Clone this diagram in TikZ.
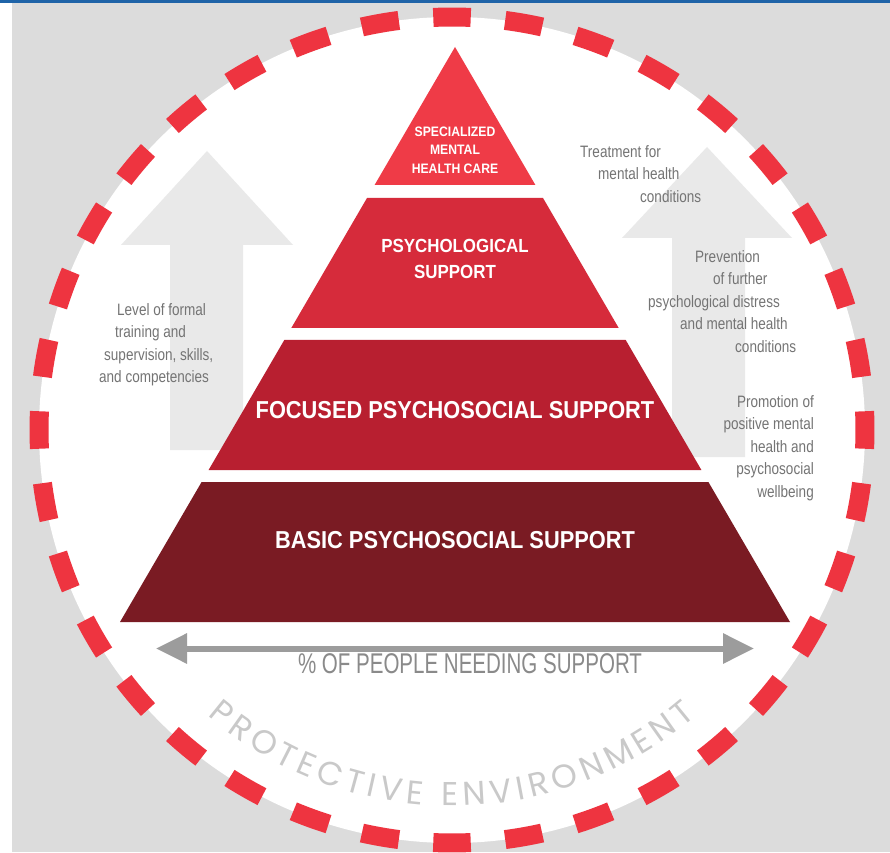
\documentclass[tikz,border=0pt]{standalone}
\usepackage{fontspec}
\usetikzlibrary{arrows.meta, calc, decorations.text}
\newfontfamily\tierfont{Liberation Sans}[FakeStretch=0.89]
\newfontfamily\notefont{Liberation Sans}[FakeStretch=0.82]
\newfontfamily\axisfont{Liberation Sans}[FakeStretch=0.72]
\newfontfamily\protfont{Poppins}

\definecolor{bggray}{HTML}{DCDCDC}
\definecolor{arrowgray}{HTML}{E9E9E9}
\definecolor{ringred}{HTML}{EE3440}
\definecolor{tierA}{HTML}{EF3B47}
\definecolor{tierB}{HTML}{D62B3B}
\definecolor{tierC}{HTML}{B81F30}
\definecolor{tierD}{HTML}{7A1B23}
\definecolor{notegray}{HTML}{747474}
\definecolor{axisgray}{HTML}{9C9C9C}
\definecolor{axistext}{HTML}{8A8A8A}
\definecolor{protgray}{HTML}{C9C9C9}
\definecolor{topblue}{HTML}{1F64A8}

\begin{document}
\begin{tikzpicture}[x=1pt, y=1pt,
    tier/.style 2 args={text=white, align=center, inner sep=0pt, font=\tierfont\bfseries\fontsize{#1}{#2}\selectfont},
    note/.style={font=\notefont\fontsize{16.5}{22.5}\selectfont, text=notegray, inner sep=0pt},
    bigarrow/.style={fill=arrowgray},
    ringdash/.style={draw=ringred, line width=19pt}]
    \useasboundingbox (0,0) rectangle (890,852);

    %---------------- Background ----------------%
    \fill[bggray] (12,0) rectangle (890,849);
    \fill[white] (0,0) rectangle (12,849);
    \fill[topblue] (0,849) rectangle (890,852);
    \coordinate (C) at (452,422);
    \fill[white] (C) circle[radius=413];

    %---------------- Up arrows ----------------%
    \fill[bigarrow] (207,701) -- (293,607) -- (243,607) -- (243,402) -- (170,402) -- (170,607) -- (121,607) -- cycle;
    \fill[bigarrow] (707,705) -- (792,614) -- (745,614) -- (745,395) -- (672,395) -- (672,614) -- (622,614) -- cycle;

    %---------------- Pyramid ----------------%
    \fill[tierA] (455,805) -- (535.4,667) -- (374.6,667) -- cycle;
    \fill[tierB] (367,654) -- (543,654) -- (618.7,524) -- (291.3,524) -- cycle;
    \fill[tierC] (284.3,512) -- (625.7,512) -- (701.4,382) -- (208.6,382) -- cycle;
    \fill[tierD] (201.6,370) -- (708.4,370) -- (790,230) -- (120,230) -- cycle;

    \node[tier={13.7}{18.5}] (specialized) at (455,702) {SPECIALIZED\\MENTAL\\HEALTH CARE};
    \node[tier={19}{26}] (psychological) at (455,593) {PSYCHOLOGICAL\\SUPPORT};
    \node[tier={24.5}{26}] (focused) at (455,442) {FOCUSED PSYCHOSOCIAL SUPPORT};
    \node[tier={24.5}{26}] (basic) at (455,312) {BASIC PSYCHOSOCIAL SUPPORT};

    %---------------- Side notes ----------------%
    \node[note, anchor=north west, align=left] (treatment) at (580,707)
        {Treatment for\\\hspace*{18pt}mental health\\\hspace*{60pt}conditions};
    \node[note, anchor=north west, align=left] (prevention) at (648,602)
        {\hspace*{47pt}Prevention\\\hspace*{65pt}of further\\psychological distress\\\hspace*{32pt}and mental health\\\hspace*{87pt}conditions};
    \node[note, anchor=north east, align=right] (promotion) at (814,457)
        {Promotion of\\positive mental\\health and\\psychosocial\\wellbeing};
    \node[note, anchor=north west, align=left] (training) at (99,549)
        {\hspace*{18pt}Level of formal\\\hspace*{16pt}training and\\\hspace*{5pt}supervision, skills,\\and competencies};

    %---------------- Axis ----------------%
    \coordinate (axisL) at (156,203.5);
    \coordinate (axisR) at (754,203.5);
    \draw[axisgray, line width=6pt, {Triangle[length=31pt, width=29pt]}-{Triangle[length=31pt, width=29pt]}] (axisL) -- (axisR);
    \node[font=\axisfont\fontsize{28.5}{30}\selectfont, text=axistext, anchor=base, inner sep=0pt] (needing) at (470,179) {\% OF PEOPLE NEEDING SUPPORT};

    %---------------- Dashed ring ----------------%
    \foreach \a in {0,10,...,350}
        \draw[ringdash] ($(C)+(\a-2.6:413)$) arc[start angle=\a-2.6, end angle=\a+2.6, radius=413];

    \path[decorate, decoration={text along path, text align={fit to path}, text color=protgray,
        text={|\protfont\fontsize{33}{33}\selectfont|PROTECTIVE ENVIRONMENT}}]
        ($(C)+(229.5:376)$) arc[start angle=229.5, end angle=310.5, radius=376];
\end{tikzpicture}
\end{document}
